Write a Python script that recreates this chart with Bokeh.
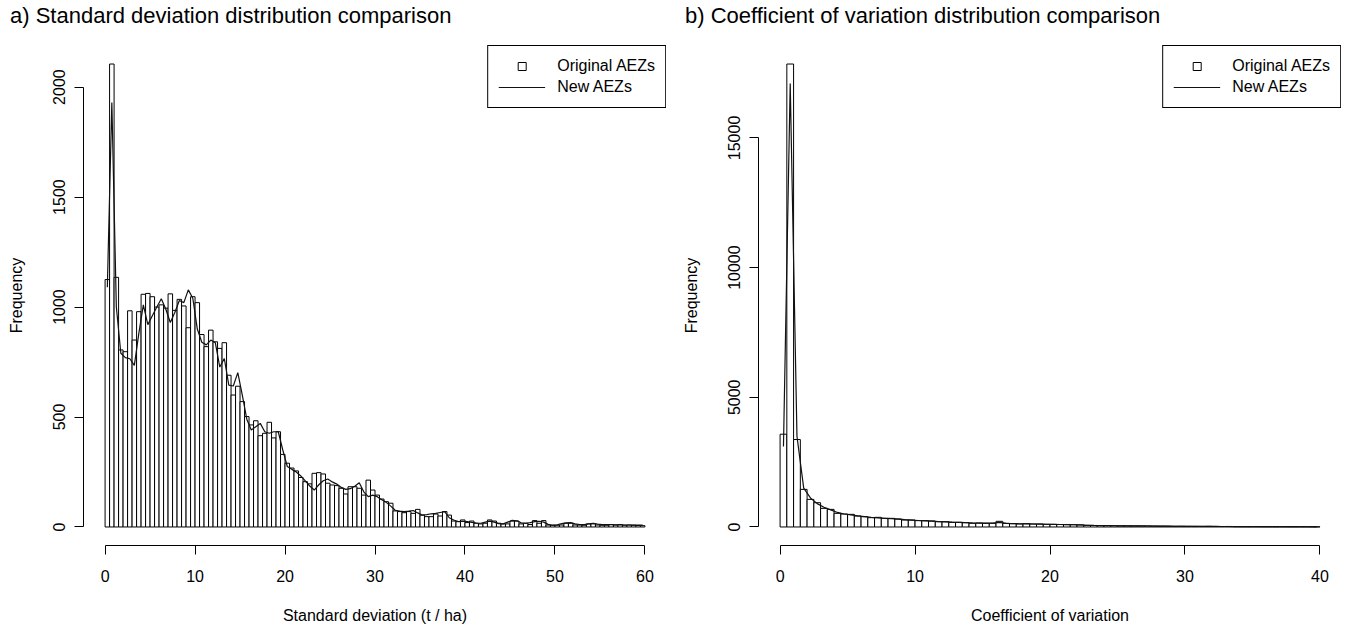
import numpy as np
from bokeh.plotting import figure
from bokeh.models import Range1d, FixedTicker, Legend, LegendItem, Div
from bokeh.layouts import row, column
from bokeh.embed import file_html
from bokeh.resources import INLINE

# ---------------- data ----------------
# a) Standard deviation (t / ha), bins of 0.5 from 0 to 60
sd_bin_width = 0.5
sd_original = [
    1125, 2105, 1135, 805, 797, 983, 850, 979, 1058, 1062,
    1047, 1000, 1010, 995, 1060, 985, 1035, 1005, 906, 1047,
    1020, 875, 820, 895, 842, 812, 838, 690, 600, 640,
    570, 502, 464, 483, 415, 426, 476, 405, 433, 330,
    290, 268, 255, 225, 206, 196, 244, 247, 241, 199,
    191, 188, 176, 150, 183, 183, 176, 145, 213, 168,
    145, 127, 115, 108, 73, 70, 65, 70, 62, 80,
    54, 47, 47, 59, 50, 70, 54, 27, 24, 32,
    20, 27, 17, 14, 17, 32, 27, 17, 14, 14,
    27, 27, 14, 17, 11, 29, 17, 29, 9, 8,
    8, 9, 17, 17, 9, 9, 8, 14, 14, 9,
    8, 8, 11, 9, 11, 8, 9, 8, 7, 6,
]
sd_new = [
    1090, 1930, 1000, 790, 770, 765, 735, 880, 1010, 920,
    960, 1000, 1038, 990, 930, 975, 1030, 1020, 1078, 1040,
    900, 840, 828, 850, 838, 727, 766, 645, 641, 702,
    600, 490, 441, 456, 471, 433, 426, 433, 433, 350,
    275, 262, 250, 232, 210, 186, 168, 192, 210, 218,
    205, 195, 180, 171, 174, 185, 201, 160, 138, 145,
    138, 124, 112, 95, 76, 72, 70, 72, 75, 64,
    54, 56, 60, 62, 66, 70, 42, 32, 25, 26,
    25, 21, 18, 17, 22, 27, 22, 15, 14, 22,
    30, 28, 19, 17, 20, 24, 26, 22, 12, 8,
    10, 15, 19, 20, 14, 11, 11, 14, 17, 13,
    11, 11, 11, 10, 10, 9, 9, 8, 8, 8,
]
sd_x_ticks = [0, 10, 20, 30, 40, 50, 60]
sd_y_ticks = [0, 500, 1000, 1500, 2000]

# b) Coefficient of variation, bins of 0.5 from 0 to 40
cv_bin_width = 0.5
cv_original = [
    3577, 17850, 3372, 1450, 1064, 936, 718, 679, 526, 500,
    487, 423, 397, 359, 372, 333, 333, 308, 269, 269,
    244, 244, 231, 205, 205, 179, 179, 167, 141, 154,
    141, 141, 218, 141, 128, 115, 128, 115, 115, 103,
    100, 95, 92, 88, 80, 62, 58, 55, 52, 48,
    45, 42, 40, 38, 42, 35, 32, 30, 28, 30,
    26, 24, 22, 25, 20, 18, 20, 17, 15, 14,
    16, 13, 12, 11, 12, 10, 9, 10, 8, 7,
]
cv_new = [
    3100, 17100, 3500, 1500, 1120, 900, 760, 660, 560, 500,
    470, 430, 400, 370, 350, 335, 320, 300, 280, 265,
    250, 238, 225, 210, 200, 188, 178, 165, 155, 150,
    145, 150, 175, 140, 130, 125, 122, 115, 110, 105,
    100, 96, 92, 86, 78, 66, 60, 56, 52, 48,
    45, 43, 40, 40, 38, 35, 32, 30, 29, 28,
    26, 24, 23, 22, 20, 19, 18, 17, 16, 15,
    14, 13, 12, 11, 11, 10, 9, 9, 8, 7,
]
cv_x_ticks = [0, 10, 20, 30, 40]
cv_y_ticks = [0, 5000, 10000, 15000]

titles = ["a) Standard deviation distribution comparison",
          "b) Coefficient of variation distribution comparison"]
legend_labels = ["Original AEZs", "New AEZs"]

FONT = "Liberation Sans"
TITLE_H = 44


def make_panel(xlabel, counts, new_counts, bin_width, xticks, yticks,
               width, border_left, border_right):
    counts = np.asarray(counts, dtype=float)
    new_counts = np.asarray(new_counts, dtype=float)
    n = len(counts)
    left = np.arange(n) * bin_width
    right = left + bin_width
    mids = left + bin_width / 2.0

    x0, x1 = left[0], right[-1]
    xpad = 0.04 * (x1 - x0)
    ymax = counts.max()
    ypad = 0.04 * ymax
    xr = Range1d(x0 - xpad, x1 + xpad)
    yr = Range1d(-ypad, ymax + ypad)

    p = figure(width=width, height=628 - TITLE_H, output_backend="svg",
               toolbar_location=None, x_range=xr, y_range=yr, title=None,
               min_border_left=border_left, min_border_right=border_right,
               min_border_top=1, min_border_bottom=83)
    p.outline_line_color = None
    p.xgrid.visible = False
    p.ygrid.visible = False
    p.background_fill_color = "white"
    p.border_fill_color = "white"

    p.quad(left=left, right=right, bottom=0, top=counts,
           fill_color="white", line_color="black", line_width=1)
    ln = p.line(mids, new_counts, line_color="#111111", line_width=1.2)
    # legend-only marker (no visible data point)
    sq = p.scatter(x=[float("nan")], y=[float("nan")], marker="square", size=11,
                   fill_color=None, line_color="black", line_width=1)

    for ax in (p.xaxis[0], p.yaxis[0]):
        ax.axis_line_color = "black"
        ax.axis_line_width = 1
        ax.major_tick_line_color = "black"
        ax.major_tick_out = 9
        ax.major_tick_in = 0
        ax.minor_tick_line_color = None
        ax.major_label_text_font = FONT
        ax.major_label_text_font_size = "16px"
        ax.major_label_text_color = "black"
        ax.axis_label_text_font = FONT
        ax.axis_label_text_font_size = "16px"
        ax.axis_label_text_font_style = "normal"
        ax.axis_label_text_color = "black"

    p.xaxis.ticker = FixedTicker(ticks=xticks)
    p.xaxis.bounds = (xticks[0], xticks[-1])
    p.xaxis.major_label_standoff = 15
    p.xaxis.axis_label = xlabel
    p.xaxis.axis_label_standoff = 22

    p.yaxis.ticker = FixedTicker(ticks=yticks)
    p.yaxis.bounds = (yticks[0], yticks[-1])
    p.yaxis.major_label_orientation = "vertical"
    p.yaxis.major_label_standoff = 9
    p.yaxis.axis_label = "Frequency"
    p.yaxis.axis_label_standoff = 26

    legend = Legend(items=[LegendItem(label=legend_labels[0], renderers=[sq]),
                           LegendItem(label=legend_labels[1], renderers=[ln])],
                    location="top_right")
    legend.margin = 0
    legend.padding = 10
    legend.spacing = 1
    legend.glyph_width = 47
    legend.glyph_height = 20
    legend.label_height = 20
    legend.label_standoff = 12
    legend.label_text_font = FONT
    legend.label_text_font_size = "16px"
    legend.label_text_color = "black"
    legend.border_line_color = "black"
    legend.border_line_alpha = 1
    legend.border_line_width = 1
    legend.background_fill_color = "white"
    legend.background_fill_alpha = 1
    p.add_layout(legend)
    return p


p1 = make_panel("Standard deviation (t / ha)", sd_original, sd_new, sd_bin_width,
                sd_x_ticks, sd_y_ticks, width=672, border_left=83, border_right=6)
p2 = make_panel("Coefficient of variation", cv_original, cv_new, cv_bin_width,
                cv_x_ticks, cv_y_ticks, width=673, border_left=86, border_right=4)

title_html = (
    "<div style=\"position:relative;width:1345px;height:44px;"
    "font-family:'Liberation Sans',Arial,sans-serif;"
    "font-size:22px;line-height:22px;color:black;white-space:nowrap;\">"
    "<span style=\"position:absolute;left:10px;top:5px;\">" + titles[0] + "</span>"
    "<span style=\"position:absolute;left:685px;top:5px;\">" + titles[1] + "</span>"
    "</div>"
)
header = Div(text=title_html, width=1345, height=TITLE_H, margin=0)

layout = column(header, row(p1, p2), spacing=0)
open("out.html", "w").write(file_html(layout, INLINE))
